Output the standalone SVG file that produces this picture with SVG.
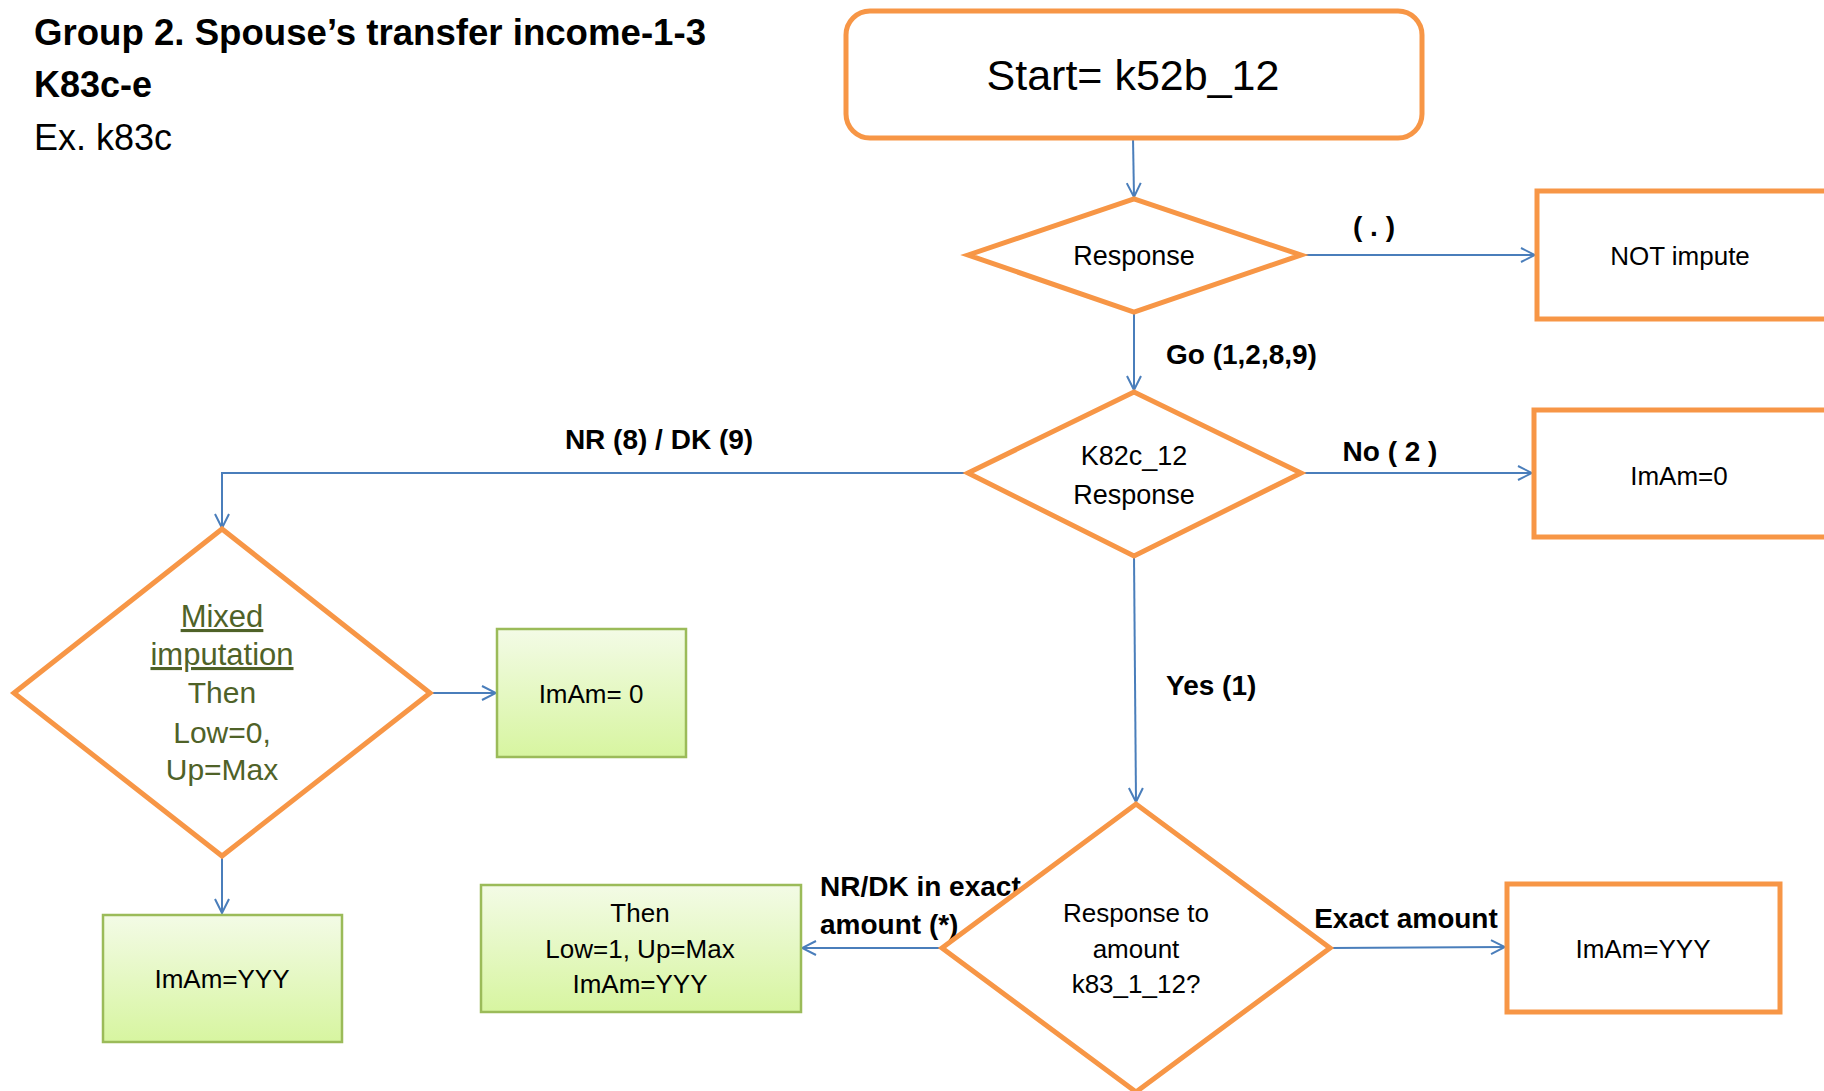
<svg xmlns="http://www.w3.org/2000/svg" width="1824" height="1091" viewBox="0 0 1824 1091">
<defs>
<linearGradient id="gr" x1="0" y1="0" x2="0" y2="1">
<stop offset="0" stop-color="#F3FBE6"/>
<stop offset="1" stop-color="#D7F5A0"/>
</linearGradient>
<marker id="ah" markerUnits="userSpaceOnUse" markerWidth="16" markerHeight="16" viewBox="0 0 16 16" refX="15" refY="8" orient="auto">
<path d="M1,1 L15,8 L1,15" fill="none" stroke="#4A7EBB" stroke-width="2"/>
</marker>
</defs>
<style>
.t{font-family:"Liberation Sans",Arial,sans-serif;fill:#000;text-anchor:middle}
.b{font-weight:bold}
.ob{fill:#fff;stroke:#F79646;stroke-width:5}
.gb{fill:url(#gr);stroke:#9BBB59;stroke-width:2.5}
.c{fill:none;stroke:#4A7EBB;stroke-width:2;marker-end:url(#ah)}
.g{fill:#4F6228}
</style>
<rect width="1824" height="1091" fill="#fff"/>
<g id="title">
<text class="t b" x="34" y="45" font-size="36" style="text-anchor:start" textLength="672" lengthAdjust="spacingAndGlyphs">Group 2. Spouse’s transfer income-1-3</text>
<text class="t b" x="34" y="97" font-size="36" style="text-anchor:start">K83c-e</text>
<text class="t" x="34" y="150" font-size="36" style="text-anchor:start">Ex. k83c</text>
</g>
<g id="connectors">
<path class="c" d="M1133,138 L1134,197"/>
<path class="c" d="M1301,255 L1535,255"/>
<path class="c" d="M1134,312 L1134,390"/>
<path class="c" d="M1301,473 L1532,473"/>
<path class="c" d="M968,473 L222,473 L222,528"/>
<path class="c" d="M430,693 L496,693"/>
<path class="c" d="M222,856 L222,913"/>
<path class="c" d="M1134,556 L1136,802"/>
<path class="c" d="M942,948 L802,948"/>
<path class="c" d="M1330,948 L1505,947"/>
<text class="t b" x="1374" y="236" font-size="28">( . )</text>
<text class="t b" x="1166" y="364" font-size="28" style="text-anchor:start">Go (1,2,8,9)</text>
<text class="t b" x="1390" y="461" font-size="28">No ( 2 )</text>
<text class="t b" x="659" y="449" font-size="28">NR (8) / DK (9)</text>
<text class="t b" x="1166" y="695" font-size="28" style="text-anchor:start">Yes (1)</text>
<text class="t b" x="820" y="896" font-size="28" style="text-anchor:start">NR/DK in exact</text>
<text class="t b" x="820" y="934" font-size="28" style="text-anchor:start">amount (*)</text>
<text class="t b" x="1406" y="928" font-size="28">Exact amount</text>
</g>
<g id="start">
<rect class="ob" x="846" y="11" width="576" height="127" rx="24"/>
<text class="t" x="1133" y="90" font-size="43">Start= k52b_12</text>
</g>
<g id="response1">
<polygon class="ob" points="968,255 1134,199 1301,255 1134,312"/>
<text class="t" x="1134" y="265" font-size="27">Response</text>
</g>
<g id="notimpute">
<rect class="ob" x="1537" y="191" width="300" height="128"/>
<text class="t" x="1680" y="265" font-size="26">NOT impute</text>
</g>
<g id="k82c">
<polygon class="ob" points="968,473 1134,392 1301,473 1134,556"/>
<text class="t" x="1134" y="465" font-size="27">K82c_12</text>
<text class="t" x="1134" y="504" font-size="27">Response</text>
</g>
<g id="imam0">
<rect class="ob" x="1534" y="410" width="300" height="127"/>
<text class="t" x="1679" y="485" font-size="26">ImAm=0</text>
</g>
<g id="mixed">
<polygon class="ob" points="14,693 222,529 430,693 222,856"/>
<text class="t g" x="222" y="627" font-size="31" text-decoration="underline">Mixed</text>
<text class="t g" x="222" y="665" font-size="31" text-decoration="underline">imputation</text>
<text class="t g" x="222" y="703" font-size="30">Then</text>
<text class="t g" x="222" y="743" font-size="30">Low=0,</text>
<text class="t g" x="222" y="780" font-size="30">Up=Max</text>
</g>
<g id="imam0green">
<rect class="gb" x="497" y="629" width="189" height="128"/>
<text class="t" x="591" y="703" font-size="26">ImAm= 0</text>
</g>
<g id="imamyyyleft">
<rect class="gb" x="103" y="915" width="239" height="127"/>
<text class="t" x="222" y="988" font-size="26">ImAm=YYY</text>
</g>
<g id="response2">
<polygon class="ob" points="942,948 1136,804 1330,948 1136,1092"/>
<text class="t" x="1136" y="922" font-size="26">Response to</text>
<text class="t" x="1136" y="958" font-size="26">amount</text>
<text class="t" x="1136" y="993" font-size="26">k83_1_12?</text>
</g>
<g id="thenbox">
<rect class="gb" x="481" y="885" width="320" height="127"/>
<text class="t" x="640" y="922" font-size="26">Then</text>
<text class="t" x="640" y="958" font-size="26">Low=1, Up=Max</text>
<text class="t" x="640" y="993" font-size="26">ImAm=YYY</text>
</g>
<g id="imamyyyright">
<rect class="ob" x="1507" y="884" width="273" height="128"/>
<text class="t" x="1643" y="958" font-size="26">ImAm=YYY</text>
</g>
</svg>
